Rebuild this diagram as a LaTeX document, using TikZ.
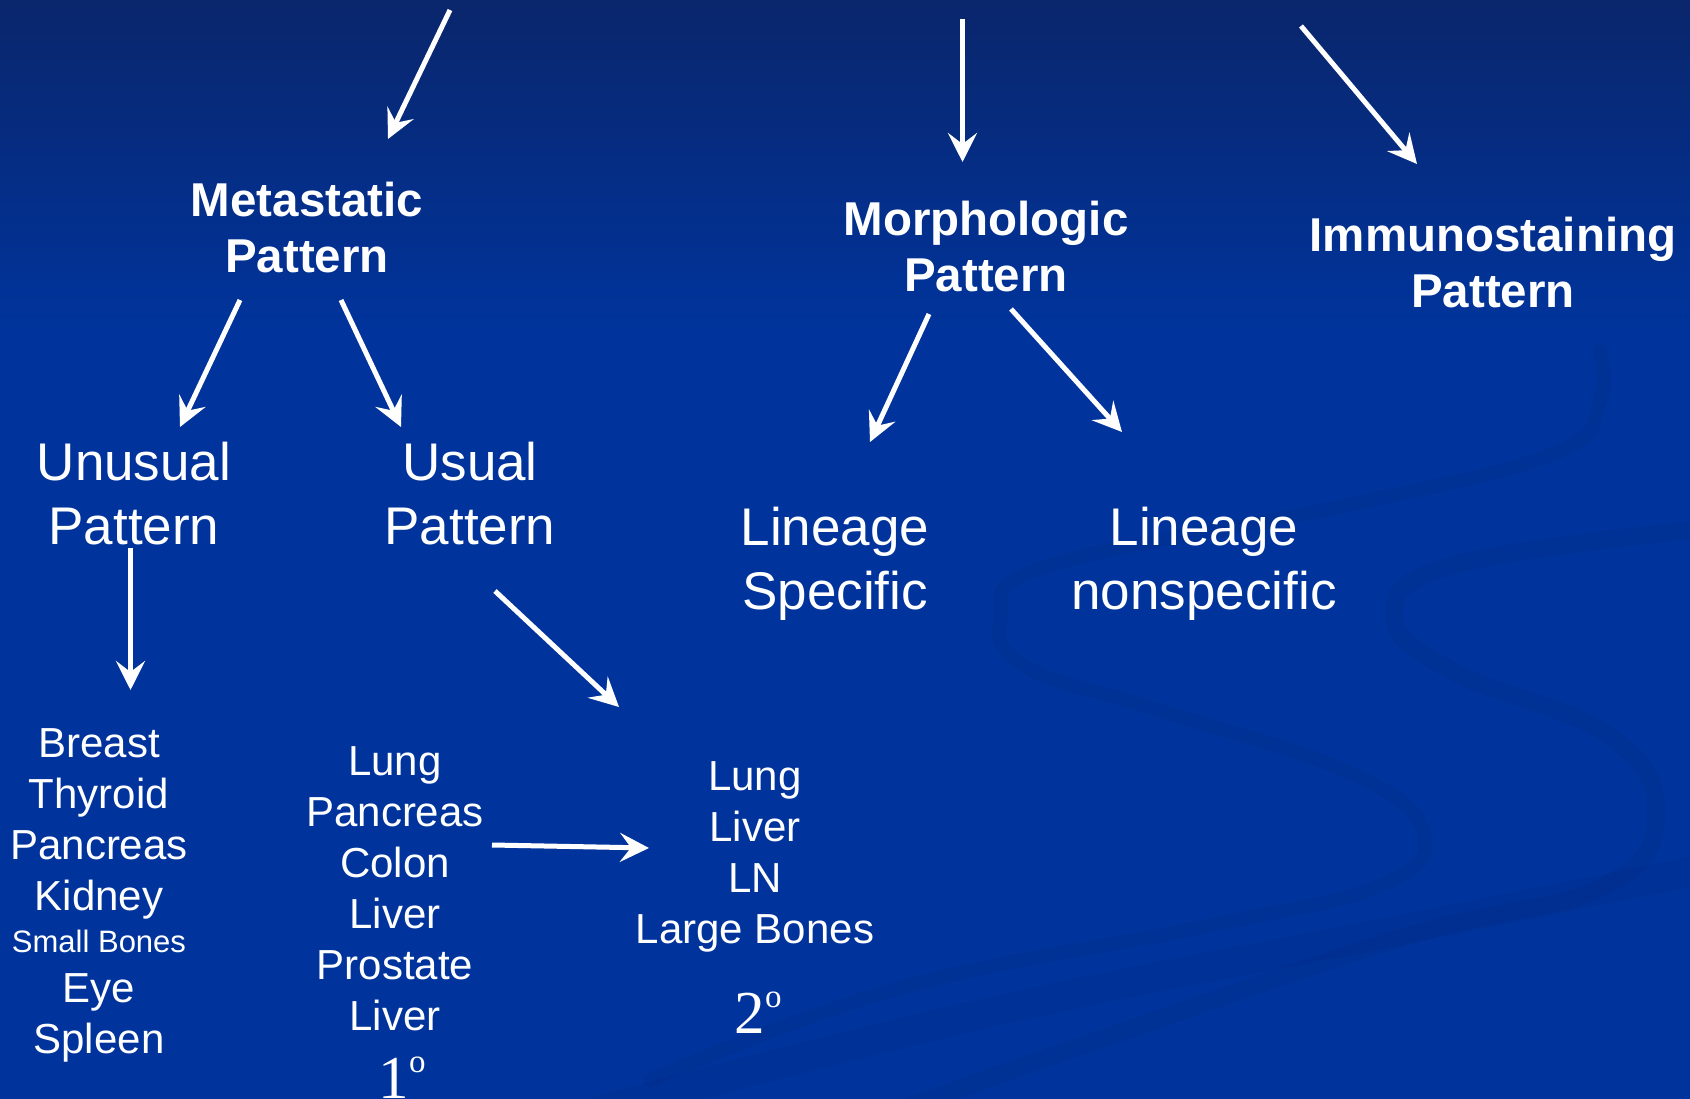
\documentclass[tikz,border=0pt]{standalone}
\usepackage{fontspec}
\setmainfont{Liberation Sans}
\newfontfamily\serifnum{Liberation Serif}
\usetikzlibrary{arrows.meta}
\definecolor{bgtop}{RGB}{10,38,108}
\definecolor{bgmid}{RGB}{0,52,156}
\definecolor{swirlc}{RGB}{0,44,136}
\begin{document}
\begin{tikzpicture}[x=1pt,y=-1pt,
  arr/.style={draw=white, line width=5pt, -{Stealth[length=29pt,width=29pt,inset=11pt]}},
  ribbon/.style={draw=swirlc, line cap=round, opacity=0.35},
  title/.style={text=white, font=\fontsize{47.5}{56.5}\selectfont\bfseries, align=center, anchor=base, inner sep=0pt},
  sub/.style={text=white, font=\fontsize{53}{63.5}\selectfont, align=center, anchor=base, inner sep=0pt},
  lst/.style={text=white, font=\fontsize{42}{51}\selectfont, align=center, anchor=base, inner sep=0pt},
  deg/.style={text=white, font=\serifnum\fontsize{61}{61}\selectfont, anchor=base, inner sep=0pt}]
\useasboundingbox (0,0) rectangle (1690,1099);
% background
\fill[bgmid] (0,0) rectangle (1690,1099);
\shade[top color=bgtop, bottom color=bgmid] (0,0) rectangle (1690,330);
% faint swirls
\draw[ribbon, line width=14pt] plot[smooth, tension=0.7] coordinates {(1600,351) (1600,402) (1555,453) (1353,504) (1051,565) (1001,616) (1026,667) (1152,708) (1353,774) (1424,835) (1379,886) (1202,927) (900,988) (650,1080)};
\draw[ribbon, line width=18pt] plot[smooth, tension=0.7] coordinates {(1700,529) (1454,565) (1394,616) (1454,672) (1605,733) (1656,810) (1605,886) (1404,937) (1101,1039) (900,1110)};
\draw[ribbon, line width=30pt, opacity=0.25] plot[smooth, tension=0.6] coordinates {(600,1110) (1000,1010) (1400,930) (1700,870)};
% titles (anchor = baseline of last line)
\node[title] (meta) at (307,273) {Metastatic\\Pattern};
\node[title] (morph) at (986,292) {Morphologic\\Pattern};
\node[title] (immuno) at (1493,308) {Immunostaining\\Pattern};
\node[sub] (unusual) at (134,544) {Unusual\\Pattern};
\node[sub] (usual) at (470,544) {Usual\\Pattern};
\node[sub] (lspec) at (835,609) {Lineage\\Specific};
\node[sub] (lnon) at (1204,609) {Lineage\\nonspecific};
% lists
\node[lst] (unlistA) at (99,910) {Breast\\Thyroid\\Pancreas\\Kidney};
\node[lst, font=\fontsize{31}{37}\selectfont] (small) at (99,952) {Small Bones};
\node[lst] (unlistB) at (99,1053) {Eye\\Spleen};
\node[lst] (uslist) at (395,1030) {Lung\\Pancreas\\Colon\\Liver\\Prostate\\Liver};
\node[lst] (seclist) at (755,943) {Lung\\Liver\\LN\\Large Bones};
\node[deg] (one) at (402,1098) {1\raisebox{26pt}{\fontsize{33}{33}\selectfont o}};
\node[deg] (two) at (758,1033) {2\raisebox{26pt}{\fontsize{33}{33}\selectfont o}};
% arrow end points
\coordinate (a1s) at (450,10);    \coordinate (a1e) at (388,139);
\coordinate (a2s) at (962.5,19);  \coordinate (a2e) at (962.5,162);
\coordinate (a3s) at (1301,26);   \coordinate (a3e) at (1417,164);
\coordinate (a4s) at (240,300);   \coordinate (a4e) at (180,427);
\coordinate (a5s) at (341,300);   \coordinate (a5e) at (401,427);
\coordinate (a6s) at (929,314);   \coordinate (a6e) at (870,442);
\coordinate (a7s) at (1011,309);  \coordinate (a7e) at (1122,432);
\coordinate (a8s) at (130.5,548); \coordinate (a8e) at (130.5,690);
\coordinate (a9s) at (495,591);   \coordinate (a9e) at (619,707);
\coordinate (a10s) at (492,845);  \coordinate (a10e) at (649,848);
% arrows
\draw[arr] (a1s) -- (a1e);
\draw[arr] (a2s) -- (a2e);
\draw[arr] (a3s) -- (a3e);
\draw[arr] (a4s) -- (a4e);
\draw[arr] (a5s) -- (a5e);
\draw[arr] (a6s) -- (a6e);
\draw[arr] (a7s) -- (a7e);
\draw[arr] (a8s) -- (a8e);
\draw[arr] (a9s) -- (a9e);
\draw[arr] (a10s) -- (a10e);
\end{tikzpicture}
\end{document}
